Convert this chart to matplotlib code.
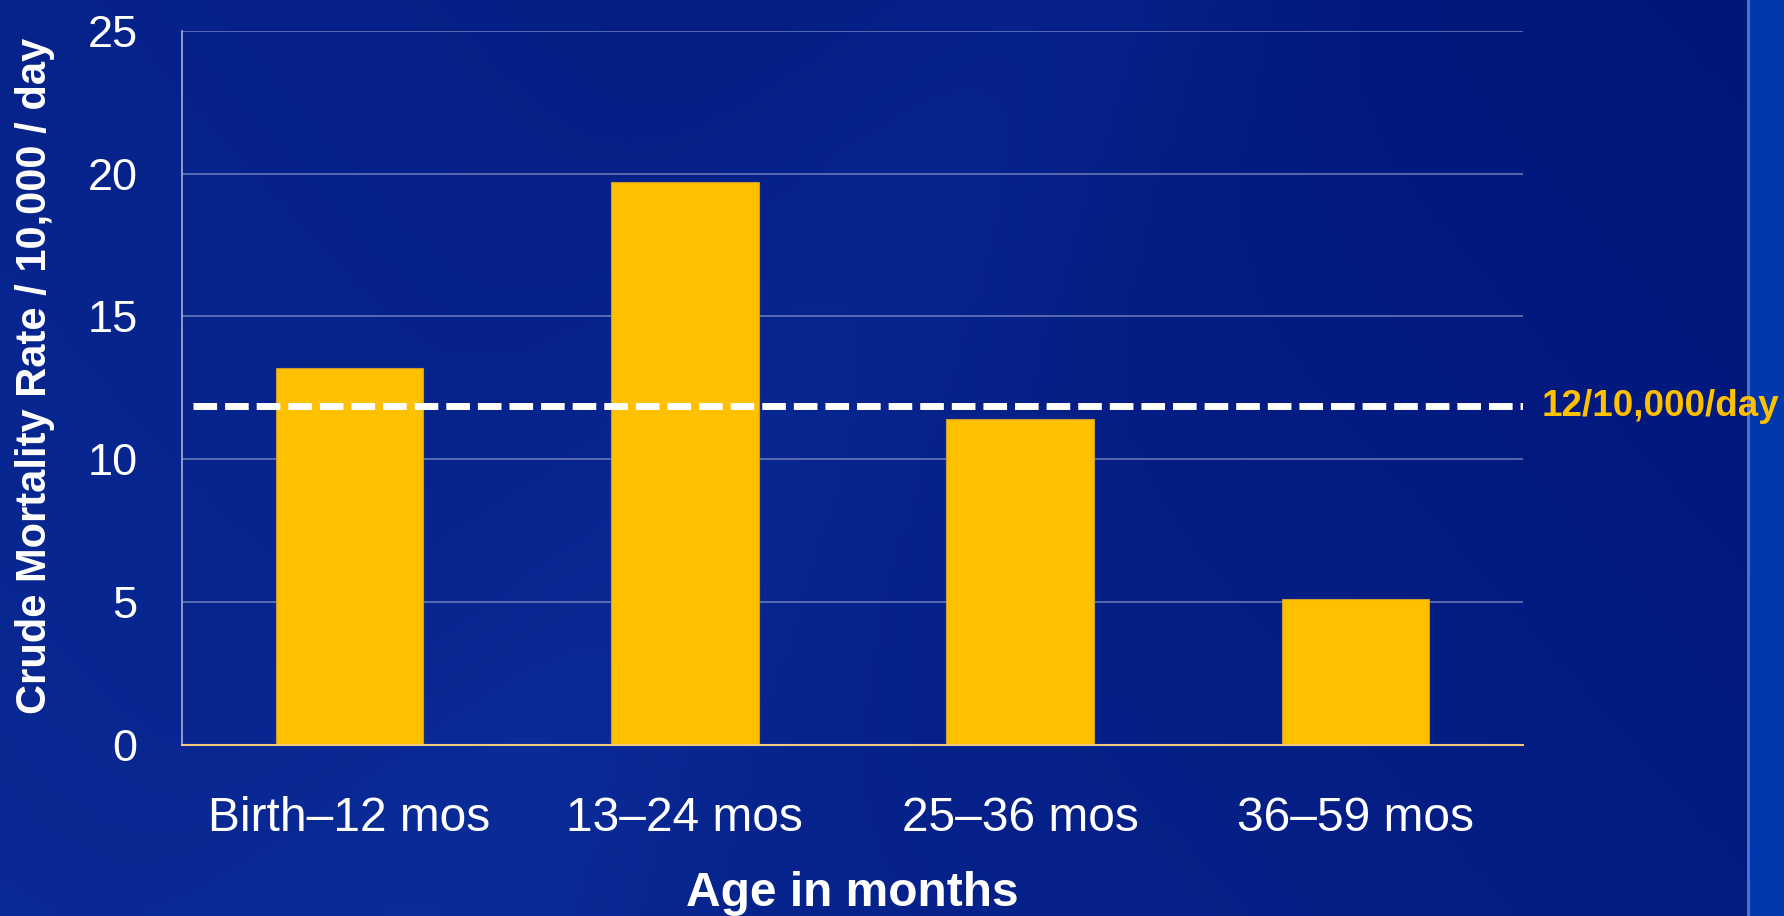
import numpy as np
import matplotlib
matplotlib.use("Agg")
from matplotlib import pyplot as plt
from matplotlib.colors import LinearSegmentedColormap

plt.rcParams['font.family'] = ['Liberation Sans', 'DejaVu Sans']

categories = ['Birth\u201312 mos', '13\u201324 mos', '25\u201336 mos', '36\u201359 mos']
rates = [13.2, 19.7, 11.4, 5.1]
threshold = 11.85
threshold_label = '12/10,000/day'
yticks = [0, 5, 10, 15, 20, 25]

fig = plt.figure(figsize=(17.84, 9.16), dpi=100)

# background gradient
bg = fig.add_axes([0, 0, 1, 1], zorder=-10)
bg.set_axis_off()
xx, yy = np.meshgrid(np.linspace(0, 1, 400), np.linspace(0, 1, 200))
shade = 0.55 * (1 - xx) + 0.25 * yy
shade += 0.25 * np.exp(-((xx - 0.42 + 0.35 * (yy - 0.5)) / 0.12) ** 2)
cmap = LinearSegmentedColormap.from_list('bg', ['#00167a', '#0b2c98'])
bg.imshow(shade, cmap=cmap, aspect='auto', extent=[0, 1, 0, 1], origin='upper')
bg.axvspan(0.98, 1.0, color='#0038ad')
bg.axvline(0.98, color='#4d78d0', lw=2)
bg.set_xlim(0, 1)
bg.set_ylim(0, 1)

ax = fig.add_axes([0.102, 0.1872, 0.7517, 0.779])
ax.set_facecolor('none')
x = np.arange(len(categories))
ax.bar(x, rates, width=0.44, color='#FFC000', edgecolor='#c89a30', linewidth=0.8, zorder=3)
ax.axhline(threshold, xmin=0.008, xmax=1.0, color='white', lw=5, dashes=(3.4, 1.15), zorder=4)
ax.text(1.014, threshold, threshold_label, transform=ax.get_yaxis_transform(),
        color='#FFC000', fontsize=26.5, fontweight='bold', va='center', ha='left')

ax.set_xlim(-0.5, 3.5)
ax.set_ylim(0, 25)
ax.set_yticks(yticks)
ax.set_xticks(x)
ax.set_xticklabels(categories)
ax.yaxis.grid(True, color='#9aa4cc', lw=1.3, alpha=0.6, zorder=0)
ax.tick_params(axis='both', length=0, colors='white', labelsize=32.5)
ax.tick_params(axis='x', labelsize=34.5)
ax.tick_params(axis='y', pad=32)
ax.tick_params(axis='x', pad=37)
for s in ['top', 'right']:
    ax.spines[s].set_visible(False)
ax.spines['left'].set_color('#9aa4cc')
ax.spines['left'].set_linewidth(1.3)
ax.spines['bottom'].set_color('#f0c880')
ax.spines['bottom'].set_linewidth(1.5)
ax.spines['bottom'].set_zorder(5)

ax.set_xlabel('Age in months', color='white', fontsize=34.5, fontweight='bold', labelpad=22)
ax.set_ylabel('Crude Mortality Rate / 10,000 / day', color='white', fontsize=30,
              fontweight='bold')
ax.yaxis.set_label_coords(-0.095, 0.517)

fig.savefig('out.png', dpi=100)
